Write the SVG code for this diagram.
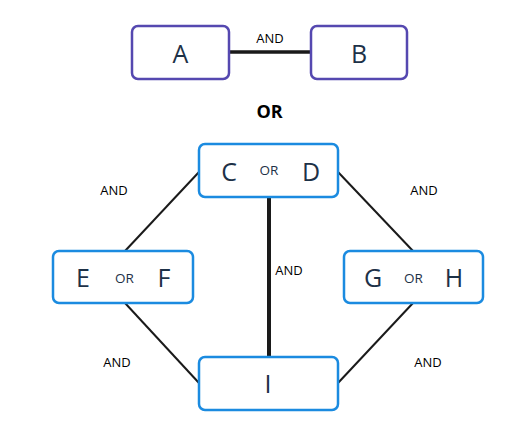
<svg xmlns="http://www.w3.org/2000/svg" width="522" height="447" viewBox="0 0 522 447">
<style>
.p{fill:#fff;stroke:#5548b0;stroke-width:2.5}
.b{fill:#fff;stroke:#1b8be0;stroke-width:2.5}
.big{font-family:"Open Sans",sans-serif;font-size:25px;fill:#1d3147;text-anchor:middle;dominant-baseline:central}
.sm{font-family:"Open Sans",sans-serif;font-size:13.5px;fill:#1d3147;text-anchor:middle;dominant-baseline:central}
.lbl{font-family:"Open Sans",sans-serif;font-size:13px;fill:#000;text-anchor:middle;dominant-baseline:central}
.ln{stroke:#1a1a1a;stroke-width:2;fill:none}
</style>
<rect width="522" height="447" fill="#fff"/>
<g id="connectors">
<line class="ln" x1="229" y1="52" x2="311" y2="52" style="stroke-width:3.5"/>
<line class="ln" x1="199" y1="172" x2="125" y2="251"/>
<line class="ln" x1="338" y1="172" x2="413" y2="251"/>
<line class="ln" x1="125" y1="303" x2="199" y2="383"/>
<line class="ln" x1="413" y1="303" x2="338" y2="383"/>
<line class="ln" x1="269" y1="197" x2="269" y2="357" style="stroke-width:4"/>
<text class="lbl" x="270" y="38">AND</text>
<text class="lbl" x="114" y="190">AND</text>
<text class="lbl" x="424" y="190">AND</text>
<text class="lbl" x="289" y="270">AND</text>
<text class="lbl" x="117" y="362">AND</text>
<text class="lbl" x="428" y="362">AND</text>
</g>
<text x="269.5" y="111" style="font-family:'Open Sans',sans-serif;font-size:18px;font-weight:bold;fill:#000;text-anchor:middle;dominant-baseline:central">OR</text>
<g id="A">
<rect class="p" x="132" y="26" width="97" height="53" rx="6"/>
<text class="big" x="180.5" y="52.5">A</text>
</g>
<g id="B">
<rect class="p" x="311" y="26" width="96" height="53" rx="6"/>
<text class="big" x="359" y="52.5">B</text>
</g>
<g id="CD">
<rect class="b" x="199" y="144" width="139" height="53" rx="6"/>
<text class="big" x="229" y="171">C</text>
<text class="sm" x="269" y="170">OR</text>
<text class="big" x="311" y="171">D</text>
</g>
<g id="EF">
<rect class="b" x="53" y="251" width="140" height="52" rx="6"/>
<text class="big" x="83" y="277">E</text>
<text class="sm" x="124.5" y="277.5">OR</text>
<text class="big" x="164" y="277">F</text>
</g>
<g id="GH">
<rect class="b" x="344" y="251" width="139" height="52" rx="6"/>
<text class="big" x="373" y="277">G</text>
<text class="sm" x="413.5" y="277.5">OR</text>
<text class="big" x="454" y="277">H</text>
</g>
<g id="I">
<rect class="b" x="199" y="357" width="139" height="53" rx="6"/>
<text class="big" x="268" y="383">I</text>
</g>
</svg>
